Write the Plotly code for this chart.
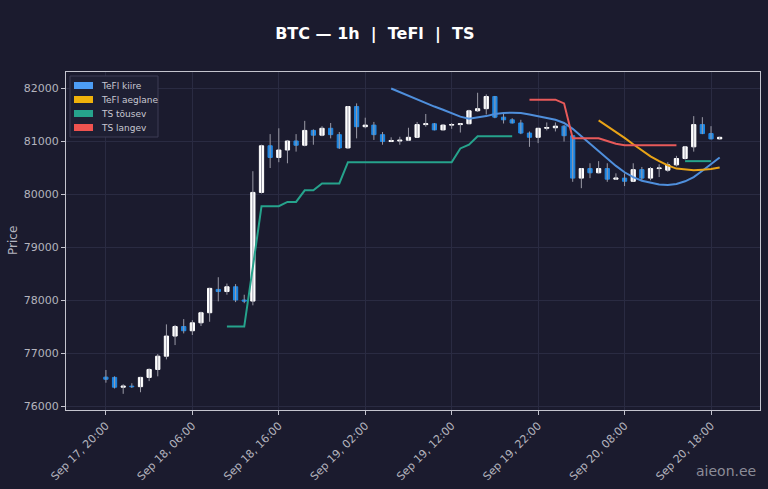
import pandas as pd
import plotly.graph_objects as go

# hourly candles, Sep 17 20:00 -> Sep 20 19:00
times = pd.date_range("2025-09-17 20:00", periods=72, freq="h")

opens = [76545, 76540, 76355, 76375, 76365, 76540, 76690, 76940, 77320, 77500,
         77420, 77570, 77760, 78200, 78160, 78250, 78000, 77980, 80030, 80910,
         80690, 80830, 81000, 80920, 81200, 81110, 81240, 81120, 80870, 81650,
         81270, 81300, 81120, 80990, 81000, 81015, 81070, 81310, 81325, 81210,
         81300, 81310, 81325, 81570, 81610, 81840, 81450, 81400, 81340, 81150,
         81070, 81240, 81250, 81280, 81100, 80300, 80480, 80400, 80480, 80280,
         80300, 80240, 80460, 80300, 80480, 80450, 80550, 80670, 80890, 81310,
         81140, 81040]
highs = [76680, 76560, 76410, 76430, 76550, 76710, 76980, 77540, 77530, 77640,
         77620, 77780, 78230, 78430, 78310, 78300, 78100, 80430, 80930, 81130,
         81240, 81020, 81130, 81380, 81220, 81280, 81340, 81170, 81660, 81710,
         81440, 81360, 81170, 81070, 81080, 81250, 81360, 81510, 81340, 81320,
         81340, 81330, 81590, 81910, 81880, 81850, 81520, 81430, 81400, 81180,
         81240, 81350, 81350, 81300, 81100, 80490, 80580, 80620, 80580, 80390,
         80390, 80580, 80510, 80510, 80560, 80600, 80720, 80900, 81470, 81450,
         81280, 81080]
lows = [76440, 76330, 76230, 76340, 76260, 76470, 76560, 76880, 77150, 77370,
        77340, 77510, 77590, 77975, 78100, 77960, 77940, 77900, 80010, 80490,
        80600, 80580, 80800, 80900, 80930, 81090, 81050, 80850, 80850, 81050,
        81240, 81020, 80930, 80990, 80930, 81000, 81070, 81270, 81200, 81200,
        81230, 81160, 81320, 81550, 81500, 81430, 81330, 81330, 81130, 80890,
        80960, 81200, 81180, 80990, 80230, 80110, 80300, 80390, 80230, 80265,
        80150, 80240, 80250, 80260, 80320, 80420, 80520, 80650, 80800, 81130,
        81030, 81030]
closes = [76505, 76355, 76375, 76365, 76540, 76690, 76940, 77320, 77500, 77420,
          77570, 77760, 78220, 78160, 78250, 78000, 77980, 80030, 80910, 80690,
          80830, 81000, 80920, 81200, 81110, 81240, 81120, 80870, 81650, 81270,
          81300, 81120, 80990, 81010, 81015, 81070, 81310, 81325, 81210, 81300,
          81310, 81325, 81570, 81610, 81840, 81450, 81400, 81340, 81150, 81070,
          81240, 81255, 81280, 81100, 80300, 80480, 80400, 80480, 80280, 80300,
          80240, 80460, 80300, 80480, 80490, 80550, 80670, 80890, 81310, 81140,
          81040, 81070]

N = None
tefl_kiire = [N] * 33 + [
    81990, 81920, 81860, 81790, 81720, 81650, 81590, 81520, 81460, 81420,
    81440, 81470, 81510, 81530, 81535, 81530, 81500, 81470, 81430, 81400,
    81340, 81230, 81090, 80950, 80800, 80660, 80530, 80410, 80320, 80250,
    80210, 80180, 80170, 80190, 80240, 80320, 80440, 80570, 80690]
tefl_aeglane = [N] * 57 + [
    81390, 81280, 81180, 81060, 80940, 80820, 80710, 80620, 80540, 80480,
    80460, 80450, 80460, 80470, 80500]
ts_tousev = [N] * 14 + [
    77500, 77500, 77500, 78620, 79770, 79770, 79770, 79850, 79850, 80070,
    80070, 80200, 80200, 80200, 80600, 80600, 80600, 80600, 80600, 80600,
    80600, 80600, 80600, 80600, 80600, 80600, 80600, 80860, 80930, 81090,
    81090, 81090, 81090, 81090] + [N] * 19 + [80620, 80620, 80620, 80620]
ts_langev = [N] * 49 + [
    81780, 81780, 81780, 81780, 81710, 81050, 81050, 81050, 81050, 81000,
    80950, 80920, 80920, 80920, 80920, 80920, 80920, 80920] + [N] * 5

bg = "#1b1b2e"
grid = "#2a2b42"
up_col = "#ffffff"
down_col = "#1e88e5"

# plot area in pixels (for the hand-drawn legend)
L, R, T, B = 66, 760, 72, 410
def px(x):
    return (x - L) / (R - L)
def py(y):
    return (B - y) / (B - T)

fig = go.Figure()

# wicks in grey, drawn under the bodies
wx, wy = [], []
for t, h, l in zip(times, highs, lows):
    wx += [t, t, None]
    wy += [l, h, None]
fig.add_trace(go.Scatter(x=wx, y=wy, mode="lines", line=dict(color="#9a9aa6", width=1),
                         hoverinfo="skip", showlegend=False))

body_hi = [max(o, c) for o, c in zip(opens, closes)]
body_lo = [min(o, c) for o, c in zip(opens, closes)]
fig.add_trace(go.Candlestick(
    x=times, open=opens, high=body_hi, low=body_lo, close=closes,
    increasing=dict(line=dict(color=up_col, width=1), fillcolor=up_col),
    decreasing=dict(line=dict(color=down_col, width=1), fillcolor=down_col),
    showlegend=False, name="BTC"))

lines = [
    ("TeFl kiire", tefl_kiire, "#4f8fdc", "#4d9df5"),
    ("TeFl aeglane", tefl_aeglane, "#e8a317", "#f0b20b"),
    ("TS tõusev", ts_tousev, "#26a38c", "#26a38c"),
    ("TS langev", ts_langev, "#e85a5a", "#ef5350"),
]
for name, vals, col, swatch in lines:
    fig.add_trace(go.Scatter(x=times, y=vals, mode="lines", name=name,
                             line=dict(color=col, width=2), showlegend=False))

# legend box drawn by hand so it stays compact
shapes = [dict(type="rect", xref="paper", yref="paper",
               x0=px(70), x1=px(158), y0=py(137), y1=py(76),
               fillcolor="#1e1f33", line=dict(color="#3c3d55", width=1))]
annots = []
for k, (name, vals, col, swatch) in enumerate(lines):
    yc = 85.5 + 14 * k
    shapes.append(dict(type="rect", xref="paper", yref="paper",
                       x0=px(74), x1=px(93), y0=py(yc + 3.5), y1=py(yc - 3.5),
                       fillcolor=swatch, line=dict(width=0)))
    annots.append(dict(text=name, xref="paper", yref="paper", x=px(99), y=py(yc),
                       xanchor="left", yanchor="middle", showarrow=False,
                       font=dict(size=9, color="#c8c8d2")))
annots.append(dict(text="aieon.ee", xref="paper", yref="paper", x=px(758), y=py(471),
                   xanchor="right", yanchor="middle", showarrow=False,
                   font=dict(size=14, color="#8c8c98")))
# y axis title as annotation, placed where the reference has it
annots.append(dict(text="Price", xref="paper", yref="paper", x=px(13), y=py(241),
                   xanchor="center", yanchor="middle", textangle=-90, showarrow=False,
                   font=dict(size=12, color="#b4b4be")))

fig.update_layout(
    width=768, height=489,
    paper_bgcolor=bg, plot_bgcolor=bg,
    font=dict(family="DejaVu Sans", color="#b4b4be", size=11),
    title=dict(text="<b>BTC — 1h  |  TeFl  |  TS</b>", x=0.488, xanchor="center",
               y=1 - 33 / 489, yanchor="middle", font=dict(size=16, color="#ffffff")),
    margin=dict(l=L, r=768 - R, t=T, b=489 - B),
    showlegend=False,
    shapes=shapes,
    annotations=annots,
)
fig.update_xaxes(
    range=["2025-09-17 15:23", "2025-09-20 23:40"],
    rangeslider=dict(visible=False), automargin=False,
    tick0="2025-09-17 20:00", dtick=10 * 3600 * 1000, tickformat="%b %d, %H:%M",
    tickangle=-45, gridcolor=grid, showline=True, linecolor="#c4c4ce", mirror=True,
    ticks="outside", ticklen=4, tickcolor="#c4c4ce", zeroline=False,
)
fig.update_yaxes(
    range=[75925, 82302], dtick=1000, tickformat="d", automargin=False,
    gridcolor=grid, showline=True, linecolor="#c4c4ce", mirror=True,
    ticks="outside", ticklen=4, tickcolor="#c4c4ce", zeroline=False,
)

# page body has a default 8px margin; drop it so the figure fills the window
fig.write_html("out.html", config={"displayModeBar": False},
               post_script="document.body.style.margin='0';"
                           "document.body.style.background='%s';" % bg)
